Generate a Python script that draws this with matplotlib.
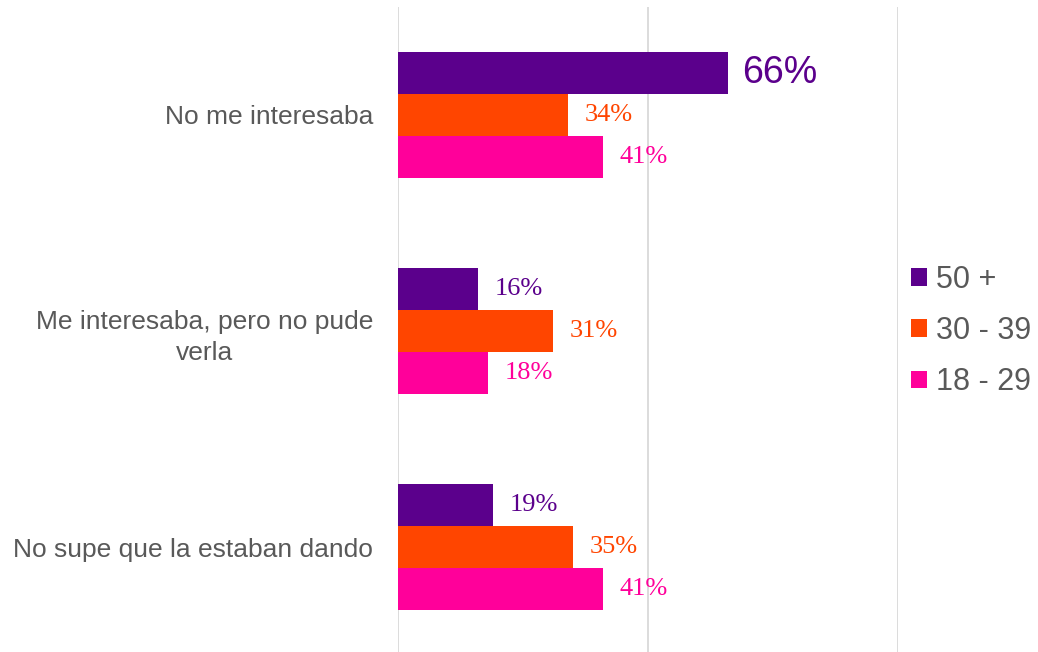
import matplotlib
matplotlib.use("Agg")
import matplotlib.pyplot as plt
import numpy as np
from matplotlib.patches import Patch

categories = ["No me interesaba", "Me interesaba, pero no pude\nverla", "No supe que la estaban dando"]
series = ["50 +", "30 - 39", "18 - 29"]
v50 = [66, 16, 19]
v30 = [34, 31, 35]
v18 = [41, 18, 41]
colors = ["#5B008C", "#FF4500", "#FF009A"]

plt.rcParams["font.family"] = ["Liberation Sans", "DejaVu Sans"]

fig = plt.figure(figsize=(10.38, 6.52), dpi=100)
ax = fig.add_axes([398 / 1038, -3 / 652, 500 / 1038, 648 / 652])

bh = 0.193
y = np.arange(len(categories))
for k, (vals, col) in enumerate(zip([v50, v30, v18], colors)):
    pos = y + (k - 1) * bh
    ax.barh(pos, np.array(vals) / 100, height=bh, color=col, zorder=3)
    for p, v, cat in zip(pos, vals, range(len(vals))):
        if k == 0 and cat == 0:
            ax.text(v / 100 + 0.028, p, f"{v}%", color=col, fontsize=27,
                    va="center", ha="left", zorder=4)
        else:
            ax.text(v / 100 + 0.034, p, f"{v}%", color=col, fontsize=19,
                    va="center", ha="left", family="Liberation Serif", zorder=4)

ax.set_xlim(0, 1.0)
ax.set_ylim(len(categories) - 0.5, -0.5)
ax.set_xticks([0, 0.5, 1.0])
ax.xaxis.grid(True, color="#D9D9D9", linewidth=1.3, zorder=0)
ax.tick_params(axis="x", length=0, labelbottom=False)
ax.tick_params(axis="y", length=0, pad=18)
ax.set_yticks(y)
ax.set_yticklabels(categories, fontsize=19, color="#595959", linespacing=1.4)
for lbl in ax.get_yticklabels():
    lbl.set_multialignment("center")
for s in ax.spines.values():
    s.set_visible(False)

handles = [Patch(facecolor=c, edgecolor="none") for c in colors]
fig.legend(handles, series, loc="center left", bbox_to_anchor=(911 / 1038, (652 - 331) / 652),
           frameon=False, fontsize=22, handlelength=0.52, handleheight=0.52,
           handletextpad=0.3, labelspacing=0.7, borderpad=0, borderaxespad=0,
           labelcolor="#595959")

fig.savefig("out.png", dpi=100)
